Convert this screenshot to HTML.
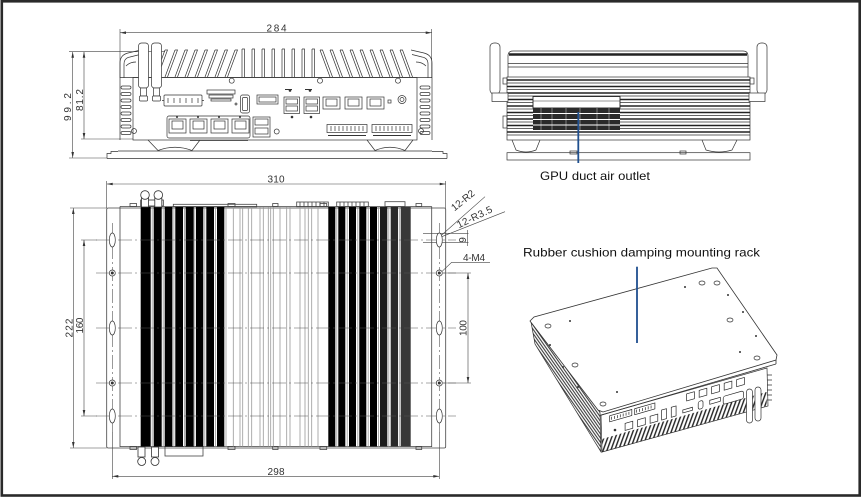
<!DOCTYPE html>
<html><head><meta charset="utf-8"><style>
html,body{margin:0;padding:0;background:#fff;width:863px;height:499px;overflow:hidden;}
svg{display:block;}
text{font-family:"Liberation Sans","Noto Sans CJK SC",sans-serif;}
</style></head><body>
<svg width="863" height="499" viewBox="0 0 863 499" xmlns="http://www.w3.org/2000/svg">
<defs>
<pattern id="hs" width="2.4" height="10" patternUnits="userSpaceOnUse" patternTransform="rotate(-35)"><line x1="0.6" y1="0" x2="0.6" y2="10" stroke="#2a2a2a" stroke-width="1"/></pattern>
<pattern id="hf" width="3.6" height="10" patternUnits="userSpaceOnUse" patternTransform="rotate(20)"><line x1="0.8" y1="0" x2="0.8" y2="10" stroke="#222" stroke-width="1.4"/></pattern>
</defs>
<rect width="863" height="499" fill="#fff"/>
<rect x="1.8" y="1.3" width="857.9" height="494.2" fill="none" stroke="#2a2a2a" stroke-width="2.6"/>

<!-- ================= FRONT VIEW ================= -->
<g stroke="#444" stroke-width="0.6" fill="none">
  <path d="M120 29V78M431.7 29V78M120 32.7H431.7"/>
  <path d="M69 51.7H165M69 158H107M81 139H133M72.7 51.7V158M84 51.7V139"/>
</g>
<g fill="#333">
  <path d="M120 32.7l6 -1.3v2.6zM431.7 32.7l-6 -1.3v2.6z"/>
  <path d="M72.7 51.7l-1.3 6h2.6zM72.7 158l-1.3 -6h2.6zM84 51.7l-1.3 6h2.6zM84 139l-1.3 -6h2.6z"/>
  <text x="276.5" y="31.5" font-size="10" text-anchor="middle" textLength="20">284</text>
  <text transform="translate(71,107) rotate(-90)" font-size="10" text-anchor="middle" textLength="28">99.2</text>
  <text transform="translate(83,100) rotate(-90)" font-size="10" text-anchor="middle" textLength="22">81.2</text>
</g>
<g stroke="#333" stroke-width="0.7" fill="none">
  <path d="M155 77L165 50M157.5 77L167.5 50H165M165 77L175 50M167.5 77L177.5 50H175M175 77L185 50M177.5 77L187.5 50H185M185 77L195 50M187.5 77L197.5 50H195M195 77L205 50M197.5 77L207.5 50H205M205 77L215 50M207.5 77L217.5 50H215M215 77L225 50M217.5 77L227.5 50H225M225 77L235 50M227.5 77L237.5 50H235"/>
  <path d="M242 77V49M244.5 77V49H242M252 77V49M254.5 77V49H252M262 77V49M264.5 77V49H262M272 77V49M274.5 77V49H272M282 77V49M284.5 77V49H282M292 77V49M294.5 77V49H292M302 77V49M304.5 77V49H302M312 77V49M314.5 77V49H312"/>
  <path d="M330 77L320 50M332.5 77L322.5 50H320M340 77L330 50M342.5 77L332.5 50H330M350 77L340 50M352.5 77L342.5 50H340M360 77L350 50M362.5 77L352.5 50H350M370 77L360 50M372.5 77L362.5 50H360M380 77L370 50M382.5 77L372.5 50H370M390 77L380 50M392.5 77L382.5 50H380M400 77L390 50M402.5 77L392.5 50H390M410 77L400 50M412.5 77L402.5 50H400"/>
  <path d="M120 78V63Q120 55 128 53L141 50M124 78V64Q124 58 130 57L140 54.5M126 66Q130 62 136 62"/>
  <path d="M432 78V63Q432 55 424 53L411 50M428 78V64Q428 58 422 57L412 54.5M426 66Q422 62 416 62"/>
  <path d="M120 77.5H432"/>
  <rect x="121" y="86" width="10" height="3" rx="1.5"/><rect x="121" y="92.5" width="10" height="3" rx="1.5"/><rect x="121" y="99" width="10" height="3" rx="1.5"/><rect x="121" y="105.5" width="10" height="3" rx="1.5"/><rect x="121" y="112" width="10" height="3" rx="1.5"/><rect x="121" y="118.5" width="10" height="3" rx="1.5"/><rect x="121" y="125" width="10" height="3" rx="1.5"/><rect x="121" y="131.5" width="10" height="3" rx="1.5"/>
  <rect x="420" y="86" width="10" height="3" rx="1.5"/><rect x="420" y="92.5" width="10" height="3" rx="1.5"/><rect x="420" y="99" width="10" height="3" rx="1.5"/><rect x="420" y="105.5" width="10" height="3" rx="1.5"/><rect x="420" y="112" width="10" height="3" rx="1.5"/><rect x="420" y="118.5" width="10" height="3" rx="1.5"/><rect x="420" y="125" width="10" height="3" rx="1.5"/><rect x="420" y="131.5" width="10" height="3" rx="1.5"/>
  <path d="M120 78V140M432 78V140"/>
  <rect x="133" y="77.5" width="284" height="62.5"/>
  <path d="M148 140L158 150.5M200 140L192 150.5M158 150.5Q175 144 192 150.5M367 140L375 150.5M413 140L405 150.5M375 150.5Q390 144 405 150.5"/>
  <path d="M107 158.5H447M118 151H432M107 158.5V153.5H111V151.5H118M447 158.5V153.5H443V151.5H432M190 140.5H248"/>
  <circle cx="231.7" cy="80.7" r="2.5"/><circle cx="320" cy="80.7" r="2.5"/><circle cx="398" cy="80.7" r="2.5"/><circle cx="134" cy="131" r="2.5"/><circle cx="276.7" cy="131.5" r="2.5"/><circle cx="421" cy="131" r="2.5"/>
  <rect x="164" y="95" width="38" height="11" rx="1"/>
  <path d="M168 98v5M174 98v5M180 98v5M186 98v5M192 98v5M198 98v5M162 100.5h2M202 100.5h2"/>
  <rect x="207" y="90" width="28" height="4"/><rect x="209" y="95" width="24" height="3"/><rect x="211" y="99" width="20" height="2"/>
  <circle cx="236" cy="104" r="1"/>
  <rect x="240.5" y="95" width="9" height="18" rx="2"/><rect x="242.5" y="97.5" width="5" height="13" rx="1"/>
  <rect x="257" y="95" width="21" height="9"/><rect x="259" y="97" width="17" height="5"/>
  <rect x="284" y="97" width="15.5" height="16.5"/><rect x="286" y="99" width="11.5" height="5"/><rect x="286" y="106" width="11.5" height="5"/>
  <rect x="304" y="97" width="15.5" height="16.5"/><rect x="306" y="99" width="11.5" height="5"/><rect x="306" y="106" width="11.5" height="5"/>
  <rect x="323" y="97" width="17" height="12"/><rect x="326" y="99" width="11" height="7"/>
  <rect x="345" y="97" width="17" height="12"/><rect x="348" y="99" width="11" height="7"/>
  <rect x="367" y="97" width="17" height="12"/><rect x="370" y="99" width="11" height="7"/>
  <circle cx="402" cy="99.5" r="4"/><circle cx="402" cy="99.5" r="2"/>
  <rect x="388" y="100" width="3" height="3"/>
  <rect x="167" y="116" width="83" height="22" rx="2"/>
  <rect x="169" y="119" width="17" height="14"/><rect x="172" y="121" width="11" height="8"/>
  <rect x="190" y="119" width="17" height="14"/><rect x="193" y="121" width="11" height="8"/>
  <rect x="211" y="119" width="17" height="14"/><rect x="214" y="121" width="11" height="8"/>
  <rect x="232" y="119" width="17" height="14"/><rect x="235" y="121" width="11" height="8"/>
  <rect x="253" y="117" width="17" height="20"/><rect x="255" y="119" width="13" height="6"/><rect x="255" y="128" width="13" height="6"/>
  <rect x="327" y="124.5" width="40" height="8"/><rect x="372" y="124.5" width="40" height="8"/>
  <path d="M331 126v5M335 126v5M339 126v5M343 126v5M347 126v5M351 126v5M355 126v5M359 126v5M363 126v5M376 126v5M380 126v5M384 126v5M388 126v5M392 126v5M396 126v5M400 126v5M404 126v5M408 126v5"/>
</g>
<g fill="#333">
  <circle cx="290" cy="90.5" r="1.3"/><circle cx="310" cy="90.5" r="1.3"/><circle cx="292" cy="117" r="1.3"/><circle cx="311" cy="117" r="1.3"/>
  <circle cx="177" cy="117" r="1"/><circle cx="198" cy="117" r="1"/><circle cx="219" cy="117" r="1"/><circle cx="240" cy="117" r="1"/>
  <path d="M328 135h38v1h-38zM373 135h38v1h-38z"/>
  <path d="M305 89h7v1h-7zM285 89h7v1h-7z"/>
</g>
<g stroke="#333" stroke-width="0.7" fill="#fff">
  <rect x="138.5" y="43" width="10" height="45" rx="3"/><rect x="140.5" y="88" width="6" height="8"/><rect x="139.5" y="96" width="8" height="5" rx="1"/>
  <rect x="151.5" y="43" width="10" height="45" rx="3"/><rect x="153.5" y="88" width="6" height="8"/><rect x="152.5" y="96" width="8" height="5" rx="1"/>
</g>

<!-- ================= SIDE VIEW ================= -->
<g stroke="#333" stroke-width="0.7" fill="none">
  <path d="M508 77V56Q508 51 513 51H743Q748 51 748 56V77"/>
  <path d="M509 54.5H747" stroke="#222" stroke-width="2.5"/>
  <path d="M508 63.5H748M508 67H748"/>
  <rect x="507" y="77" width="243" height="63"/>
  <rect x="503" y="78" width="4" height="6"/><rect x="750" y="78" width="4" height="6"/>
  <rect x="503" y="116" width="4" height="12"/>
  <path d="M507 80H750M507 86.5H750M507 93H750M507 99.5H750M507 106H750M507 112.5H750M507 119H750M507 125.5H750M507 132H750" stroke="#222" stroke-width="1.5"/>
  <path d="M507 83H750M507 89.5H750M507 96H750M507 102.5H750M507 109H750M507 115.5H750M507 122H750M507 128.5H750M507 135H750"/>
  <path d="M512 140L516 150Q526 154 536 150L540 140M702 140L706 150Q719 154 732 150L737 140"/>
  <rect x="507" y="152.7" width="243" height="7.3"/>
  <rect x="570" y="151" width="7" height="3"/><rect x="680" y="151" width="6" height="3"/>
</g>
<rect x="533" y="96.5" width="87" height="11.5" fill="#fff" stroke="#222" stroke-width="0.9"/>
<rect x="533" y="108" width="87" height="22" fill="#2a2a2a"/>
<g stroke="#fff">
  <path d="M533 113.5H620M533 119.5H620M533 125H620" stroke-width="0.9"/>
  <path d="M541 108v22M552 108v22M566 108v22M580 108v22M597 108v22M609 108v22" stroke-width="0.4"/>
</g>
<path d="M533 101H620" stroke="#333" stroke-width="0.6"/>
<g stroke="#333" stroke-width="0.7" fill="#fff">
  <rect x="490" y="43" width="10" height="51" rx="4"/><rect x="492" y="93" width="16" height="8.5"/>
  <rect x="757" y="43" width="10" height="51" rx="4"/><rect x="749" y="93" width="16" height="8.5"/>
</g>
<line x1="578.3" y1="112" x2="578.3" y2="163" stroke="#1f4f8f" stroke-width="1.8"/>
<text x="540" y="180" font-size="12" fill="#111" textLength="110" lengthAdjust="spacingAndGlyphs">GPU duct air outlet</text>

<!-- ================= PLAN VIEW ================= -->
<g stroke="#444" stroke-width="0.6" fill="none">
  <path d="M106.7 181V208M445.7 181V208M106.7 184H445.7"/>
  <path d="M70 208H106.7M70 448H106.7M73.3 208V448"/>
  <path d="M81 240H97M81 416H97M84 240V416"/>
  <path d="M443 273H471M443 383H471M468 273V383"/>
  <path d="M112.3 432V479M439.3 432V479M112.3 476.3H439.3"/>
  <path d="M423 233.3H468.5M423 242.3H468.5M467.7 230V246"/>
  <path d="M441.7 235L485 196.7M441.7 236.7L505 211.7M440 273.3L451.7 262.3H490"/>
</g>
<g fill="#333">
  <path d="M106.7 184l6 -1.3v2.6zM445.7 184l-6 -1.3v2.6z"/>
  <path d="M73.3 208l-1.3 6h2.6zM73.3 448l-1.3 -6h2.6zM84 240l-1.3 6h2.6zM84 416l-1.3 -6h2.6zM468 273l-1.3 6h2.6zM468 383l-1.3 -6h2.6z"/>
  <path d="M112.3 476.3l6 -1.3v2.6zM439.3 476.3l-6 -1.3v2.6z"/>
  <text x="276" y="182.5" font-size="10" text-anchor="middle" textLength="17">310</text>
  <text x="276" y="475" font-size="10" text-anchor="middle" textLength="17">298</text>
  <text transform="translate(72.5,328) rotate(-90)" font-size="10" text-anchor="middle" textLength="19">222</text>
  <text transform="translate(83,325.5) rotate(-90)" font-size="10" text-anchor="middle" textLength="16">160</text>
  <text transform="translate(466.5,328) rotate(-90)" font-size="10" text-anchor="middle" textLength="16">100</text>
  <text transform="translate(466,240) rotate(-90)" font-size="10" text-anchor="middle">9</text>
  <text transform="translate(465,203) rotate(-39)" font-size="10" text-anchor="middle" textLength="27">12-R2</text>
  <text transform="translate(476,220) rotate(-26)" font-size="10" text-anchor="middle" textLength="38">12-R3.5</text>
  <text x="463" y="261" font-size="10" textLength="22">4-M4</text>
</g>
<g stroke="#444" stroke-width="0.8" fill="none">
  <rect x="106.7" y="208" width="339" height="240" rx="1.5"/>
  <path d="M120 206.5V447M431.7 206.5V447M120 206.5H431.7M120 446.5H431.7"/>
  <rect x="130" y="203.5" width="6.5" height="3"/><rect x="228" y="203.5" width="7" height="3"/><rect x="272.7" y="203.5" width="5.3" height="3"/><rect x="320" y="203.5" width="6.7" height="3"/><rect x="416" y="203.5" width="5.7" height="3"/>
  <rect x="173.3" y="204.3" width="83.4" height="2.5"/>
  <rect x="296.7" y="202" width="31.6" height="4.7"/><rect x="336.7" y="202" width="31.6" height="4.7"/><rect x="385" y="201.7" width="20" height="5"/>
  <path d="M300 202v4.7M304 202v4.7M308 202v4.7M312 202v4.7M316 202v4.7M320 202v4.7M324 202v4.7M340 202v4.7M344 202v4.7M348 202v4.7M352 202v4.7M356 202v4.7M360 202v4.7M364 202v4.7"/>
  <rect x="130" y="446.5" width="6.5" height="3"/><rect x="228" y="446.5" width="7" height="3"/><rect x="272.7" y="446.5" width="5.3" height="3"/><rect x="320" y="446.5" width="6.7" height="3"/><rect x="416" y="446.5" width="5.7" height="3"/>
  <rect x="165" y="446.5" width="38" height="9.5"/>
</g>
<g fill="#000">
  <rect x="140.7" y="207" width="10" height="239.5"/>
  <rect x="153.7" y="207" width="8" height="239.5"/>
  <rect x="164.7" y="207" width="7.7" height="239.5"/>
  <rect x="175.3" y="207" width="7.7" height="239.5"/>
  <rect x="185.7" y="207" width="8" height="239.5"/>
  <rect x="196" y="207" width="7.3" height="239.5"/>
  <rect x="206.3" y="207" width="7.7" height="239.5"/>
  <rect x="217" y="207" width="7.3" height="239.5"/>
  <rect x="328.3" y="207" width="7" height="239.5"/>
  <rect x="338.3" y="207" width="7" height="239.5"/>
  <rect x="349" y="207" width="7" height="239.5"/>
  <rect x="359.3" y="207" width="7" height="239.5"/>
  <rect x="370" y="207" width="7" height="239.5"/>
  <rect x="380" y="207" width="7.3" height="239.5" fill="#1c1c1c"/>
  <rect x="390.7" y="207" width="7.3" height="239.5" fill="#2a2a2a"/>
  <rect x="400.7" y="207" width="10" height="239.5" fill="#383838"/>
</g>
<g stroke="#999" stroke-width="0.8">
  <path d="M152.2 207V446.5M163.2 207V446.5M173.9 207V446.5M184.4 207V446.5M194.8 207V446.5M204.8 207V446.5M215.6 207V446.5M226 207V446.5M336.8 207V446.5M347.2 207V446.5M357.8 207V446.5M368.2 207V446.5M378.6 207V446.5M388.8 207V446.5M399.3 207V446.5"/>
  <path d="M233.3 207V446.5M240 207V446.5M242.7 207V446.5M248.3 207V446.5M251.7 207V446.5M260 207V446.5M263.3 207V446.5M268.3 207V446.5M270.7 207V446.5M273.3 207V446.5M280 207V446.5M286.7 207V446.5M290 207V446.5M300 207V446.5M305 207V446.5M308.3 207V446.5M311.7 207V446.5M318 207V446.5"/>
</g>
<g stroke="#555" stroke-width="0.6" stroke-dasharray="14 3 2 3" fill="none">
  <path d="M96 240H456M96 273H456M96 328H456M96 383H456M96 416H456"/>
  <path d="M112.3 223V433M439.3 223V433"/>
</g>
<g stroke="#333" stroke-width="0.7" fill="#fff">
  <ellipse cx="112.3" cy="240" rx="3" ry="7"/><ellipse cx="112.3" cy="328" rx="3" ry="7"/><ellipse cx="112.3" cy="416" rx="3" ry="7"/>
  <ellipse cx="439.3" cy="240" rx="3" ry="7"/><ellipse cx="439.3" cy="328" rx="3" ry="7"/><ellipse cx="439.3" cy="416" rx="3" ry="7"/>
  <circle cx="112.3" cy="273" r="3"/><circle cx="112.3" cy="383" r="3"/><circle cx="439.3" cy="273" r="3"/><circle cx="439.3" cy="383" r="3"/>
</g>
<g fill="#333">
  <circle cx="112.3" cy="273" r="1.5"/><circle cx="112.3" cy="383" r="1.5"/><circle cx="439.3" cy="273" r="1.5"/><circle cx="439.3" cy="383" r="1.5"/>
</g>
<g stroke="#333" stroke-width="0.8" fill="#fff">
  <rect x="140.7" y="200" width="22.6" height="6"/>
  <rect x="141.5" y="198" width="7" height="9"/><rect x="154.8" y="198" width="7" height="9"/>
  <circle cx="145" cy="195" r="4.3"/><circle cx="158.3" cy="195" r="4.3"/>
  <rect x="138" y="447" width="7" height="10"/><rect x="151.5" y="447" width="7" height="10"/>
  <circle cx="141.7" cy="461.5" r="4"/><circle cx="155" cy="461.5" r="4"/>
</g>

<!-- ================= ISOMETRIC VIEW ================= -->
<polygon points="531,322 600,412 601,452 535,344" fill="url(#hs)" stroke="#333" stroke-width="0.7"/>
<polygon points="601,415 767,368 768,406 602,452" fill="#fff" stroke="#333" stroke-width="0.7"/>
<polygon points="602,439 766.5,392 766.8,405.8 602,452.3" fill="url(#hf)"/>
<g stroke="#333" stroke-width="0.8" fill="none">
  <polygon points="530,321 534,317 712,268 717,268 777,355 776,360 603,412 598,410" fill="#fff"/>
  <path d="M600 415.5L776 364M776 360V364"/>
  <path d="M767 375h5M767 380h5M767 385h5M767 390h5M767 395h5M767 400h5"/>
</g>
<g stroke="#333" stroke-width="0.7" fill="#fff">
  <ellipse cx="548" cy="326" rx="3" ry="2"/><ellipse cx="702" cy="283" rx="3" ry="2"/><ellipse cx="717" cy="283" rx="3" ry="2"/><ellipse cx="730" cy="320" rx="3" ry="2"/><ellipse cx="757" cy="358" rx="3" ry="2"/><ellipse cx="603" cy="404" rx="3" ry="2"/><ellipse cx="575" cy="365" rx="3" ry="2"/>
</g>
<g fill="#333">
  <circle cx="570" cy="321" r="1"/><circle cx="685" cy="287" r="1"/><circle cx="728" cy="295" r="1"/><circle cx="743" cy="312" r="1"/><circle cx="756" cy="336" r="1"/><circle cx="740" cy="352" r="1"/><circle cx="617" cy="392" r="1"/><circle cx="578" cy="387" r="1"/><circle cx="563" cy="367" r="1"/><circle cx="550" cy="345" r="1"/><circle cx="615" cy="430" r="1.3"/>
</g>
<g transform="matrix(0.962,-0.274,0,1,602,415)" stroke="#222" stroke-width="0.7" fill="#fff">
  <rect x="8" y="3" width="23" height="6"/><rect x="34" y="3" width="21" height="6"/>
  <rect x="24" y="15" width="8" height="7"/><rect x="37" y="15" width="8" height="7"/><rect x="50" y="15" width="8" height="7"/>
  <rect x="62" y="12" width="5" height="10"/><rect x="72" y="12" width="5" height="10"/>
  <rect x="84" y="18" width="10" height="3"/>
  <rect x="88" y="3" width="8" height="7"/><rect x="101" y="3" width="8" height="7"/><rect x="114" y="3" width="8" height="7"/><rect x="127" y="3" width="8" height="7"/><rect x="140" y="3" width="8" height="7"/>
  <rect x="100" y="14" width="5" height="8" rx="2"/><rect x="112" y="16" width="11" height="4"/>
  <rect x="126" y="16" width="21" height="8" rx="2"/>
  <path d="M10 4.5v3M13 4.5v3M16 4.5v3M19 4.5v3M22 4.5v3M25 4.5v3M28 4.5v3M36 4.5v3M39 4.5v3M42 4.5v3M45 4.5v3M48 4.5v3M51 4.5v3" fill="none"/>
</g>
<g stroke="#333" stroke-width="0.7" fill="#fff">
  <rect x="746.5" y="389" width="6" height="34" rx="3"/><rect x="755" y="387" width="6" height="34" rx="3"/>
</g>
<line x1="637" y1="266.7" x2="637" y2="343" stroke="#1f4f8f" stroke-width="1.8"/>
<text x="523" y="256.5" font-size="12" fill="#111" textLength="237" lengthAdjust="spacingAndGlyphs">Rubber cushion damping mounting rack</text>
</svg>
</body></html>
